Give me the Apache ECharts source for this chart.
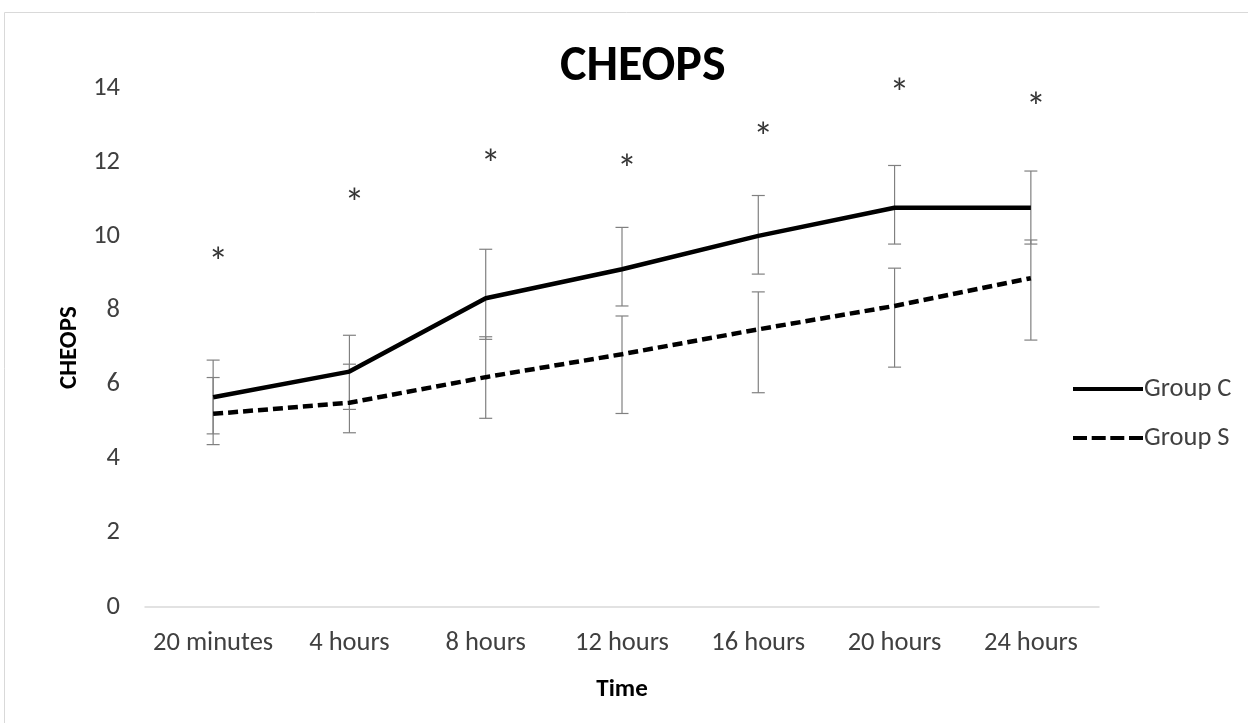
<!DOCTYPE html>
<html>
<head>
<meta charset="utf-8">
<script src="https://cdn.jsdelivr.net/npm/echarts@6/dist/echarts.min.js"></script>
<style>
html,body{margin:0;padding:0;background:#fff;}
#chart{width:1248px;height:723px;}
</style>
</head>
<body>
<div id="chart"></div>
<script>
const categories = ['20 minutes', '4 hours', '8 hours', '12 hours', '16 hours', '20 hours', '24 hours'];
const groupC = [5.66, 6.35, 8.33, 9.11, 10.01, 10.77, 10.77];
const groupCHigh = [6.66, 7.33, 9.65, 10.24, 11.10, 11.91, 11.76];
const groupCLow = [4.67, 5.33, 7.22, 8.12, 8.98, 9.79, 9.79];
const groupS = [5.21, 5.51, 6.20, 6.82, 7.49, 8.12, 8.87];
const groupSHigh = [6.19, 6.55, 7.29, 7.85, 8.50, 9.14, 9.90];
const groupSLow = [4.38, 4.70, 5.09, 5.22, 5.78, 6.47, 7.20];
const asteriskLevels = [9.5, 11.1, 12.15, 12.0, 12.87, 14.05, 13.68];
const yTicks = [0, 2, 4, 6, 8, 10, 12, 14];

const FONT = 'Carlito, "Liberation Sans Narrow", "Open Sans", sans-serif';

function errData(high, low) {
  return categories.map((c, i) => [i, high[i], low[i]]);
}
function errRender(params, api) {
  const x = api.value(0);
  const hi = api.coord([x, api.value(1)]);
  const lo = api.coord([x, api.value(2)]);
  const hw = 6.5;
  const style = {stroke: '#808080', lineWidth: 1.2};
  return {
    type: 'group',
    children: [
      {type: 'line', shape: {x1: hi[0], y1: hi[1], x2: lo[0], y2: lo[1]}, style: style},
      {type: 'line', shape: {x1: hi[0] - hw, y1: hi[1], x2: hi[0] + hw, y2: hi[1]}, style: style},
      {type: 'line', shape: {x1: lo[0] - hw, y1: lo[1], x2: lo[0] + hw, y2: lo[1]}, style: style}
    ]
  };
}

const dashIcon = 'path://M0,0h14v4h-14z M18.7,0h14v4h-14z M37.3,0h14v4h-14z M56,0h14v4h-14z';

const chart = echarts.init(document.getElementById('chart'));
chart.setOption({
  backgroundColor: '#fff',
  animation: false,
  graphic: [{
    type: 'rect',
    shape: {x: 4.5, y: 12.5, width: 1300, height: 800},
    style: {fill: 'none', stroke: '#d9d9d9', lineWidth: 1},
    silent: true
  }],
  title: {
    text: 'CHEOPS', left: 555, top: 37,
    textStyle: {fontFamily: FONT, fontSize: 50, fontWeight: 'bold', color: '#000'}
  },
  legend: {
    orient: 'vertical', left: 1068, top: 369, itemGap: 19,
    itemWidth: 70, itemHeight: 4,
    data: [
      {name: 'Group C', icon: 'rect'},
      {name: 'Group S', icon: dashIcon}
    ],
    textStyle: {fontFamily: FONT, fontSize: 26.5, color: '#404040', lineHeight: 30, padding: [0, 0, 0, -4]}
  },
  grid: {left: 145, right: 149, top: 88, bottom: 116},
  xAxis: {
    type: 'category', data: categories, boundaryGap: true,
    name: 'Time', nameLocation: 'middle', nameGap: 70,
    nameTextStyle: {fontFamily: FONT, fontSize: 25, fontWeight: 'bold', color: '#000'},
    axisLine: {lineStyle: {color: '#d9d9d9', width: 1.5}},
    axisTick: {show: false},
    axisLabel: {fontFamily: FONT, fontSize: 26.5, color: '#404040', margin: 23, interval: 0}
  },
  yAxis: {
    type: 'value', min: 0, max: 14, interval: 2,
    name: 'CHEOPS', nameLocation: 'middle', nameGap: 62, nameRotate: 90,
    nameTextStyle: {fontFamily: FONT, fontSize: 25, fontWeight: 'bold', color: '#000'},
    axisLine: {show: false}, axisTick: {show: false},
    splitLine: {show: false},
    axisLabel: {fontFamily: FONT, fontSize: 26.5, color: '#404040', margin: 25,
      formatter: v => yTicks.includes(v) ? String(v) : ''}
  },
  series: [
    {type: 'custom', name: 'errC', renderItem: errRender, data: errData(groupCHigh, groupCLow), z: 1, silent: true},
    {type: 'custom', name: 'errS', renderItem: errRender, data: errData(groupSHigh, groupSLow), z: 1, silent: true},
    {
      type: 'line', name: 'Group C', data: groupC, symbol: 'none', z: 3,
      lineStyle: {color: '#000', width: 4.5, type: 'solid'}, itemStyle: {color: '#000'}
    },
    {
      type: 'line', name: 'Group S', data: groupS, symbol: 'none', z: 3,
      lineStyle: {color: '#000', width: 4.5, type: [10, 5]}, itemStyle: {color: '#000'}
    },
    {
      type: 'scatter', name: 'sig', data: asteriskLevels, symbolSize: 1, clip: false,
      itemStyle: {color: 'rgba(0,0,0,0)'}, silent: true,
      label: {show: true, position: 'inside', formatter: '*', offset: [5, 11],
        fontFamily: FONT, fontSize: 40, color: '#000'}
    }
  ]
});
</script>
</body>
</html>
